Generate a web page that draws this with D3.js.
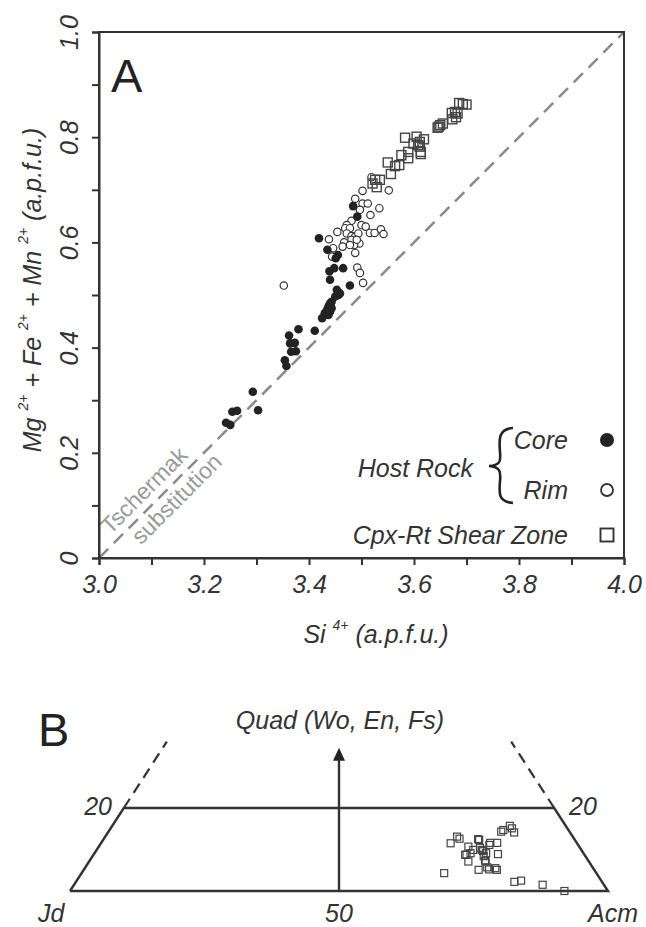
<!DOCTYPE html>
<html>
<head>
<meta charset="utf-8">
<script src="https://cdn.jsdelivr.net/npm/d3@7"></script>
<style>
  body { margin: 0; background: #fff; }
  svg text { font-family: "Liberation Sans", Arial, sans-serif; fill: #333; }
</style>
</head>
<body>
<div id="chart"></div>
<script>
// panel A data: [Si4+, Mg2+ + Fe2+ + Mn2+] in a.p.f.u.
const coreData = [
  [3.484,0.669],[3.492,0.649],[3.419,0.608],[3.435,0.586],[3.455,0.576],[3.451,0.570],
  [3.439,0.545],[3.448,0.551],[3.465,0.551],[3.440,0.529],[3.478,0.518],
  [3.453,0.510],[3.459,0.503],[3.456,0.500],[3.450,0.497],[3.443,0.487],[3.437,0.478],
  [3.434,0.471],[3.440,0.468],[3.430,0.465],[3.437,0.462],[3.443,0.475],[3.440,0.484],
  [3.425,0.456],[3.411,0.432],[3.380,0.435],[3.362,0.423],[3.364,0.408],[3.373,0.409],
  [3.375,0.393],[3.366,0.392],[3.354,0.376],[3.357,0.365],[3.293,0.316],[3.303,0.281],
  [3.254,0.278],[3.263,0.280],[3.242,0.257],[3.250,0.253]
];
const rimData = [
  [3.519,0.724],[3.502,0.698],[3.552,0.699],[3.488,0.683],[3.502,0.674],[3.512,0.674],
  [3.497,0.662],[3.534,0.665],[3.517,0.652],[3.481,0.641],[3.472,0.633],[3.469,0.627],
  [3.478,0.627],[3.500,0.633],[3.508,0.630],[3.454,0.620],[3.516,0.618],[3.525,0.618],
  [3.537,0.625],[3.542,0.616],[3.472,0.617],[3.481,0.612],[3.488,0.611],[3.494,0.617],
  [3.496,0.598],[3.486,0.595],[3.481,0.605],[3.467,0.600],[3.464,0.592],[3.478,0.595],
  [3.491,0.605],[3.438,0.606],[3.446,0.589],[3.444,0.573],[3.488,0.580],[3.492,0.552],
  [3.497,0.542],[3.503,0.523],[3.352,0.518]
];
const shearData = [
  [3.693,0.863],[3.700,0.862],[3.686,0.865],[3.678,0.848],[3.683,0.845],[3.672,0.846],
  [3.673,0.834],[3.680,0.838],[3.650,0.823],[3.645,0.818],[3.655,0.826],[3.647,0.820],
  [3.583,0.799],[3.605,0.801],[3.599,0.788],[3.611,0.791],[3.619,0.796],[3.611,0.782],
  [3.613,0.772],[3.613,0.768],[3.608,0.785],[3.589,0.772],[3.589,0.760],[3.576,0.766],
  [3.572,0.747],[3.550,0.752],[3.564,0.745],[3.556,0.730],[3.535,0.719],[3.529,0.705],
  [3.521,0.712],[3.526,0.719]
];
const xTicks = [3.0,3.1,3.2,3.3,3.4,3.5,3.6,3.7,3.8,3.9,4.0];
const yTicks = [0,0.1,0.2,0.3,0.4,0.5,0.6,0.7,0.8,0.9,1.0];
const xLabels = ["3.0","3.2","3.4","3.6","3.8","4.0"];
const yLabels = ["0","0.2","0.4","0.6","0.8","1.0"];

// panel B data: [Quad %, Acm %] for the shear zone pyroxenes
const ternQuad = [4.3,11.5,13.1,12.6,10.7,8.8,7.1,9.9,12.3,9.9,10.4,9.6,11.1,11.6,8.9,7.3,
  5.1,5.7,5.2,5.1,5.5,14.7,15.7,15.1,14.1,2.2,2.5,1.5,0.0,9.1,8.4,9.1,12.5,11.6,8.7,7.1,14.3];
const ternAcm = [67.4,65.0,65.4,66.1,68.7,69.3,70.5,70.0,69.9,71.6,71.0,72.0,72.4,73.6,75.1,73.5,
  73.4,74.7,75.3,76.8,76.3,73.2,73.9,74.6,75.5,81.5,82.6,87.1,91.9,72.8,72.7,69.9,69.6,72.3,69.1,73.7,73.0];

const W = 646, H = 927;
const FS = "25px";
const svg = d3.select("#chart").append("svg")
  .attr("width", W).attr("height", H);

// ---------- panel A ----------
const x = d3.scaleLinear().domain([3, 4]).range([99, 624]);
const y = d3.scaleLinear().domain([0, 1]).range([558, 32]);

// 1:1 Tschermak line
svg.append("line")
  .attr("x1", x(3)).attr("y1", y(0)).attr("x2", x(4)).attr("y2", y(1))
  .attr("stroke", "#8a8a8a").attr("stroke-width", 2.5).attr("stroke-dasharray", "13,8");

const tl = svg.append("g")
  .attr("transform", `translate(${x(3.118)},${y(0.118)}) rotate(-45)`);
tl.append("text").attr("text-anchor", "middle").attr("x", -8).attr("y", -8)
  .style("fill", "#9a9a9a").style("font-size", "23px").text("Tschermak");
tl.append("text").attr("text-anchor", "middle").attr("x", 9).attr("y", 21)
  .style("fill", "#9a9a9a").style("font-size", "23px").text("substitution");

// frame
svg.append("rect")
  .attr("x", x(3)).attr("y", y(1)).attr("width", x(4) - x(3)).attr("height", y(0) - y(1))
  .attr("fill", "none").attr("stroke", "#333").attr("stroke-width", 2);

// X axis
const xAxis = svg.append("g")
  .attr("transform", `translate(0,${y(0)})`)
  .call(d3.axisBottom(x).tickValues(xTicks).tickSize(7)
    .tickFormat(d => { const s = d.toFixed(1); return xLabels.includes(s) ? s : ""; }));
xAxis.select(".domain").attr("stroke", "#333").attr("stroke-width", 2);
xAxis.selectAll(".tick line").attr("stroke", "#333").attr("stroke-width", 2);
xAxis.selectAll("text").attr("y", 35).attr("dy", null)
  .style("font-size", FS).style("font-style", "italic").attr("fill", "#333");

// Y axis
const yAxis = svg.append("g")
  .attr("transform", `translate(${x(3)},0)`)
  .call(d3.axisLeft(y).tickValues(yTicks).tickSize(7)
    .tickFormat(d => { const s = d === 0 ? "0" : d.toFixed(1); return yLabels.includes(s) ? s : ""; }));
yAxis.select(".domain").attr("stroke", "#333").attr("stroke-width", 2);
yAxis.selectAll(".tick line").attr("stroke", "#333").attr("stroke-width", 2);
yAxis.selectAll("text")
  .attr("transform", "rotate(-90)").attr("x", 0).attr("y", -21).attr("dy", null)
  .attr("text-anchor", "middle")
  .style("font-size", FS).style("font-style", "italic").attr("fill", "#333");

// axis titles
const xt = svg.append("text").attr("x", 376).attr("y", 643).attr("text-anchor", "middle")
  .style("font-size", FS).style("font-style", "italic");
xt.append("tspan").text("Si ");
xt.append("tspan").attr("dy", -13).style("font-size", "14px").text("4+");
xt.append("tspan").attr("dy", 13).text(" (a.p.f.u.)");

const yt = svg.append("text")
  .attr("transform", `translate(41,${(y(0) + y(1)) / 2 - 5}) rotate(-90)`)
  .attr("text-anchor", "middle")
  .style("font-size", FS).style("font-style", "italic");
const ytParts = ["Mg ", " + Fe ", " + Mn "];
ytParts.forEach((p, i) => {
  yt.append("tspan").attr("dy", i === 0 ? 0 : 13).text(p);
  yt.append("tspan").attr("dy", -13).style("font-size", "14px").text("2+");
});
yt.append("tspan").attr("dy", 13).text(" (a.p.f.u.)");

svg.append("text").attr("x", 111).attr("y", 92)
  .style("font-size", "47px").style("fill", "#222").text("A");

// points
svg.append("g").selectAll("circle.rim").data(rimData).join("circle")
  .attr("cx", d => x(d[0])).attr("cy", d => y(d[1])).attr("r", 3.7)
  .attr("fill", "#fff").attr("stroke", "#333").attr("stroke-width", 1.2);
svg.append("g").selectAll("rect").data(shearData).join("rect")
  .attr("x", d => x(d[0]) - 4.5).attr("y", d => y(d[1]) - 4.5)
  .attr("width", 9).attr("height", 9)
  .attr("fill", "none").attr("stroke", "#444").attr("stroke-width", 1.4);
svg.append("g").selectAll("circle").data(coreData).join("circle")
  .attr("cx", d => x(d[0])).attr("cy", d => y(d[1])).attr("r", 4.3)
  .attr("fill", "#222");

// legend
const lg = svg.append("g").style("font-size", FS).style("font-style", "italic");
lg.append("text").attr("x", 568).attr("y", 449).attr("text-anchor", "end").text("Core");
lg.append("text").attr("x", 568).attr("y", 499).attr("text-anchor", "end").text("Rim");
lg.append("text").attr("x", 568).attr("y", 544).attr("text-anchor", "end").text("Cpx-Rt Shear Zone");
lg.append("text").attr("x", 473).attr("y", 477).attr("text-anchor", "end").text("Host Rock");
svg.append("path")
  .attr("d", "M513,428 C498,429 499,440 500,452 C501,462 500,465 489,466 C500,467 501,471 500,481 C499,493 498,502 513,503")
  .attr("fill", "none").attr("stroke", "#222").attr("stroke-width", 2.6);
svg.append("circle").attr("cx", 607).attr("cy", 440).attr("r", 7).attr("fill", "#222");
svg.append("circle").attr("cx", 607).attr("cy", 490).attr("r", 6)
  .attr("fill", "#fff").attr("stroke", "#333").attr("stroke-width", 1.8);
svg.append("rect").attr("x", 600.5).attr("y", 528.5).attr("width", 13).attr("height", 13)
  .attr("fill", "none").attr("stroke", "#333").attr("stroke-width", 1.9);

// ---------- panel B ----------
// position along base = Acm + Quad/2 (equilateral ternary), height from Quad %
const bx = d3.scaleLinear().domain([0, 100]).range([70, 608]);
const by = d3.scaleLinear().domain([0, 20]).range([891, 808]);
const tp = (q, a) => [bx(a + q / 2), by(q)];

const trap = [tp(0, 0), tp(20, 0), tp(20, 80), tp(0, 100), tp(0, 0)];
svg.append("path").attr("d", d3.line()(trap))
  .attr("fill", "none").attr("stroke", "#333").attr("stroke-width", 2.4).attr("stroke-linejoin", "miter");
[[tp(20, 0), tp(36, 0)], [tp(20, 80), tp(36, 64)]].forEach(s => {
  svg.append("path").attr("d", d3.line()(s))
    .attr("fill", "none").attr("stroke", "#333").attr("stroke-width", 2.2).attr("stroke-dasharray", "11,7");
});
// arrow toward Quad
const a0 = tp(0, 50), a1 = tp(31.5, 34.25), aTip = tp(34.5, 32.75);
svg.append("line").attr("x1", a0[0]).attr("y1", a0[1]).attr("x2", a1[0]).attr("y2", a1[1])
  .attr("stroke", "#333").attr("stroke-width", 2.4);
svg.append("path")
  .attr("d", `M${aTip[0]},${aTip[1]} L${aTip[0] - 6},${aTip[1] + 13} L${aTip[0] + 6},${aTip[1] + 13} Z`)
  .attr("fill", "#222");

svg.append("g").selectAll("rect").data(ternQuad).join("rect")
  .attr("x", (q, i) => tp(q, ternAcm[i])[0] - 3.5)
  .attr("y", (q, i) => tp(q, ternAcm[i])[1] - 3.5)
  .attr("width", 7).attr("height", 7)
  .attr("fill", "none").attr("stroke", "#444").attr("stroke-width", 1.2);

const bt = svg.append("g").style("font-size", FS).style("font-style", "italic");
bt.append("text").attr("x", 340).attr("y", 729).attr("text-anchor", "middle").text("Quad (Wo, En, Fs)");
bt.append("text").attr("x", 112).attr("y", 815).attr("text-anchor", "end").text("20");
bt.append("text").attr("x", 569).attr("y", 815).text("20");
bt.append("text").attr("x", 38).attr("y", 922).text("Jd");
bt.append("text").attr("x", bx(50)).attr("y", 922).attr("text-anchor", "middle").text("50");
bt.append("text").attr("x", 638).attr("y", 922).attr("text-anchor", "end").text("Acm");
svg.append("text").attr("x", 38).attr("y", 746)
  .style("font-size", "47px").style("fill", "#222").text("B");
</script>
</body>
</html>
